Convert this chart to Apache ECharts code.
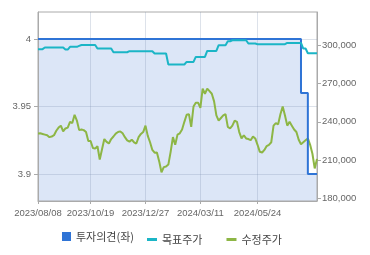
<!DOCTYPE html>
<html>
<head>
<meta charset="utf-8">
<script src="https://cdn.jsdelivr.net/npm/echarts@6/dist/echarts.min.js"></script>
<style>
html,body{margin:0;padding:0;background:#fff;}
#chart{width:370px;height:255px;}
</style>
</head>
<body>
<div id="chart"></div>
<script>
// Categories: every other trading day
const dates = [
'2023/08/08','2023/08/10','2023/08/14','2023/08/17','2023/08/21','2023/08/23','2023/08/25','2023/08/29','2023/08/31','2023/09/04',
'2023/09/06','2023/09/08','2023/09/12','2023/09/14','2023/09/18','2023/09/20','2023/09/22','2023/09/26','2023/10/04','2023/10/06',
'2023/10/11','2023/10/13','2023/10/17','2023/10/19','2023/10/23','2023/10/25','2023/10/27','2023/10/31','2023/11/02','2023/11/06',
'2023/11/08','2023/11/10','2023/11/14','2023/11/16','2023/11/20','2023/11/22','2023/11/24','2023/11/28','2023/11/30','2023/12/04',
'2023/12/06','2023/12/08','2023/12/12','2023/12/14','2023/12/18','2023/12/20','2023/12/22','2023/12/27','2024/01/02','2024/01/04',
'2024/01/08','2024/01/10','2024/01/12','2024/01/16','2024/01/18','2024/01/22','2024/01/24','2024/01/26','2024/01/30','2024/02/01',
'2024/02/05','2024/02/07','2024/02/13','2024/02/15','2024/02/19','2024/02/21','2024/02/23','2024/02/27','2024/02/29','2024/03/05',
'2024/03/07','2024/03/11','2024/03/13','2024/03/15','2024/03/19','2024/03/21','2024/03/25','2024/03/27','2024/03/29','2024/04/02',
'2024/04/04','2024/04/08','2024/04/11','2024/04/15','2024/04/17','2024/04/19','2024/04/23','2024/04/25','2024/04/29','2024/05/02',
'2024/05/07','2024/05/09','2024/05/13','2024/05/16','2024/05/20','2024/05/22','2024/05/24','2024/05/28','2024/05/30','2024/06/03',
'2024/06/05','2024/06/10','2024/06/12','2024/06/14','2024/06/18','2024/06/20','2024/06/24','2024/06/26','2024/06/28','2024/07/02',
'2024/07/04','2024/07/08','2024/07/10','2024/07/12','2024/07/16','2024/07/18','2024/07/22','2024/07/24','2024/07/26','2024/07/30',
'2024/08/01','2024/08/05','2024/08/07'
];

// 투자의견(좌) - left axis
const opinion = [
4,4,4,4,4,4,4,4,4,4, 4,4,4,4,4,4,4,4,4,4,
4,4,4,4,4,4,4,4,4,4, 4,4,4,4,4,4,4,4,4,4,
4,4,4,4,4,4,4,4,4,4, 4,4,4,4,4,4,4,4,4,4,
4,4,4,4,4,4,4,4,4,4, 4,4,4,4,4,4,4,4,4,4,
4,4,4,4,4,4,4,4,4,4, 4,4,4,4,4,4,4,4,4,4,
4,4,4,4,4,4,4,4,4,4, 4,4,4,4,4,
3.96,3.96,3.96,
3.9,3.9,3.9,3.9,3.9
];

// 목표주가 - right axis
const target = [
296900,296900,296900,
298200,298200,298200,298200,298200,298200,298200,298200,298200,
296600,296600,
298700,298700,298700,298700,
299500,
300200,300200,300200,300200,300200,300200,300200,
297400,297400,297400,297400,297400,297400,297400,
294500,294500,294500,294500,294500,294500,294500,
295300,295300,295300,295300,295300,295300,295300,295300,295300,295300,295300,
293500,293500,293500,293500,293500,293500,
284900,284900,284900,284900,284900,284900,284900,284900,
286900,286900,286900,286900,
290800,290800,290800,290800,290800,
295500,295500,295500,295500,295500,
300000,300000,300000,300000,
303100,303100,
303900,303900,303900,303900,303900,303900,303900,
301300,301300,301300,301300,
300800,300800,300800,300800,300800,300800,300800,300800,300800,300800,300800,300800,300800,
301800,301800,301800,301800,301800,301800,301800,
297400,297400,
293700,293700,293700,293700,293700
];

// 수정주가 - right axis
const price = [
230900,231000,230500,230000,229500,228000,228500,229500,233000,235500,
237000,232500,234800,235500,240000,239000,245500,241000,233500,234000,
233500,232000,225000,225000,219500,219000,221000,210500,218500,226500,
224300,223000,226500,228500,230800,232000,232500,231000,228000,225500,
224500,226000,224000,223000,228000,230500,232000,237000,229000,224000,
218000,215800,216000,209000,200500,204500,205000,206500,216500,228000,
222000,230000,231000,234000,240000,245500,246000,236000,252000,255000,
255000,251000,266000,262000,266000,264000,262000,256000,245000,241000,
243000,245000,246000,236000,234800,237000,241000,240000,232000,227000,
229500,227000,226500,225600,228500,227000,222000,216500,216000,218000,
221000,222000,224000,237000,239000,238000,246000,252000,245000,237000,
240000,237000,234000,232000,226000,222500,224000,225500,227000,222000,
215000,203500,211000
];

const xTickLabels = ['2023/08/08','2023/10/19','2023/12/27','2024/03/11','2024/05/24'];
const leftTicks = [3.9, 3.95, 4];
const rightTicks = [180000, 210000, 240000, 270000, 300000];

const showTick = (idx, val) => xTickLabels.indexOf(val) >= 0;
const gridColor = 'rgba(120,140,170,0.25)';
const axisColor = '#aaaaaa';
const labelFont = {color:'#666', fontSize:9.5, fontFamily:'Liberation Sans, Arial, sans-serif'};
const legendText = {fontSize:11, color:'#444', fontFamily:'Noto Sans CJK KR'};

const chart = echarts.init(document.getElementById('chart'), null, {renderer:'canvas'});
chart.setOption({
  animation:false,
  backgroundColor:'#fff',
  grid:{left:38, right:53, top:12, bottom:54, show:true, z:2, borderColor:axisColor, borderWidth:1, backgroundColor:'transparent'},
  legend:[
    {data:[{name:'투자의견(좌)', icon:'rect'}], left:62, top:231, padding:0, itemWidth:9, itemHeight:9, textStyle:legendText, selectedMode:false},
    {data:['목표주가','수정주가'], icon:'rect', left:147, top:234, padding:0, itemWidth:10, itemHeight:3, itemGap:24, textStyle:legendText, selectedMode:false}
  ],
  xAxis:{
    type:'category', data:dates, boundaryGap:false, z:2,
    axisLine:{lineStyle:{color:axisColor}},
    axisTick:{show:true, interval:showTick, length:3, lineStyle:{color:axisColor}},
    axisLabel:Object.assign({interval:showTick, margin:7}, labelFont),
    splitLine:{show:true, interval:showTick, lineStyle:{color:gridColor}}
  },
  yAxis:[
    {type:'value', position:'left', min:3.88, max:4.02, z:2,
     axisLine:{show:true, lineStyle:{color:axisColor}},
     axisTick:{show:true, length:4, customValues:leftTicks, lineStyle:{color:axisColor}},
     axisLabel:Object.assign({customValues:leftTicks, margin:7}, labelFont),
     splitLine:{show:true, lineStyle:{color:gridColor}}},
    {type:'value', position:'right', min:178000, max:326000, z:2,
     axisLine:{show:true, lineStyle:{color:axisColor}},
     axisTick:{show:true, length:4, customValues:rightTicks, lineStyle:{color:axisColor}},
     axisLabel:Object.assign({customValues:rightTicks, margin:5, formatter:v=>v.toLocaleString('en-US')}, labelFont),
     splitLine:{show:false}}
  ],
  series:[
    {name:'fill', type:'line', yAxisIndex:0, data:opinion, step:'end', symbol:'none', z:1, silent:true,
     lineStyle:{width:0}, areaStyle:{color:'#dce6f7', opacity:1}},
    {name:'수정주가', type:'line', yAxisIndex:1, data:price, symbol:'none', z:3, color:'#8db645',
     lineStyle:{width:2}},
    {name:'투자의견(좌)', type:'line', yAxisIndex:0, data:opinion, step:'end', symbol:'none', z:4, color:'#2f74d6',
     lineStyle:{width:2}},
    {name:'목표주가', type:'line', yAxisIndex:1, data:target, symbol:'none', z:5, color:'#1bb5c6',
     lineStyle:{width:2}}
  ]
});
</script>
</body>
</html>
